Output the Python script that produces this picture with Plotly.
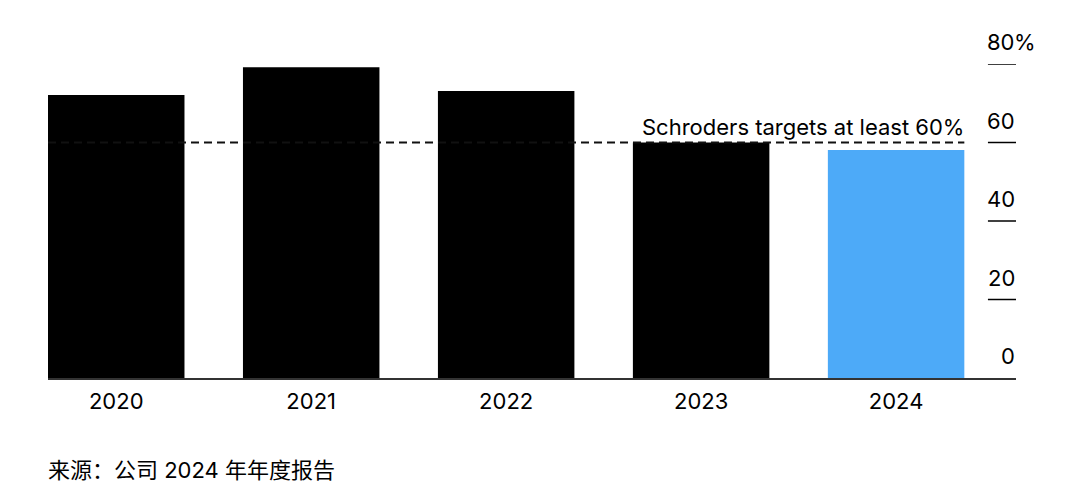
import plotly.graph_objects as go

years = ["2020", "2021", "2022", "2023", "2024"]
values = [72.1, 79.2, 73.1, 60.0, 58.1]
bar_colors = ["#000000", "#000000", "#000000", "#000000", "#4DAAF8"]
tick_values = [0, 20, 40, 60, 80]
tick_labels = ["0", "20", "40", "60", "80"]
target_value = 60
target_label = "Schroders targets at least 60%"
source_text = "来源：公司 2024 年年度报告"

FONT = "Inter, Noto Sans CJK SC, sans-serif"
FS = 22
bargap = 0.30
half = (1 - bargap) / 2

fig = go.Figure()
fig.add_trace(go.Bar(
    x=list(range(len(years))), y=values,
    marker=dict(color=bar_colors, line=dict(width=0)),
    hoverinfo="skip",
))

shapes = []
annotations = []
# target dashed line
shapes.append(dict(type="line", xref="x", yref="y",
                   x0=-half, x1=len(years) - 1 + half,
                   y0=target_value, y1=target_value,
                   line=dict(color="#111111", width=2, dash="8px,5px"),
                   layer="above"))
annotations.append(dict(x=len(years) - 1 + half, y=target_value, xref="x", yref="y",
                        text=target_label, showarrow=False, xanchor="right",
                        yanchor="bottom", yshift=0, xshift=2,
                        font=dict(family=FONT, size=FS, color="#000")))
# right-side tick marks and labels
for v, lab in zip(tick_values, tick_labels):
    if v != 0:
        shapes.append(dict(type="line", xref="paper", yref="y",
                           x0=0.971, x1=1.0, y0=v, y1=v,
                           line=dict(color="#000", width=1.5)))
    annotations.append(dict(x=1.0, y=v, xref="paper", yref="y", text=lab,
                            showarrow=False, xanchor="right", yanchor="middle",
                            yshift=22, xshift=1, font=dict(family=FONT, size=FS, color="#000")))
    if v == tick_values[-1]:
        annotations.append(dict(x=1.0, y=v, xref="paper", yref="y", text="%",
                                showarrow=False, xanchor="left", yanchor="middle",
                                yshift=22, xshift=-4, font=dict(family=FONT, size=FS, color="#000")))
# source
annotations.append(dict(x=0, y=-0.293, xref="paper", yref="paper", text=source_text,
                        showarrow=False, xanchor="left", yanchor="middle", xshift=-2,
                        font=dict(family=FONT, size=22, color="#000")))

fig.update_layout(
    width=1078, height=490,
    margin=dict(l=40, r=70, t=56, b=120),
    paper_bgcolor="white", plot_bgcolor="white",
    showlegend=False, bargap=bargap,
    shapes=shapes, annotations=annotations,
    font=dict(family=FONT, size=FS, color="#000"),
)
fig.update_xaxes(
    range=[-half, 4.615], tickmode="array",
    tickvals=list(range(len(years))), ticktext=years,
    showgrid=False, zeroline=False,
    showline=True, linecolor="#333", linewidth=1.5,
    ticks="outside", ticklen=3, tickcolor="rgba(0,0,0,0)",
    tickfont=dict(family=FONT, size=FS, color="#000"),
)
fig.update_yaxes(range=[0, 80], showgrid=False, zeroline=False,
                 showticklabels=False, showline=False)

fig.write_html("out.html")
